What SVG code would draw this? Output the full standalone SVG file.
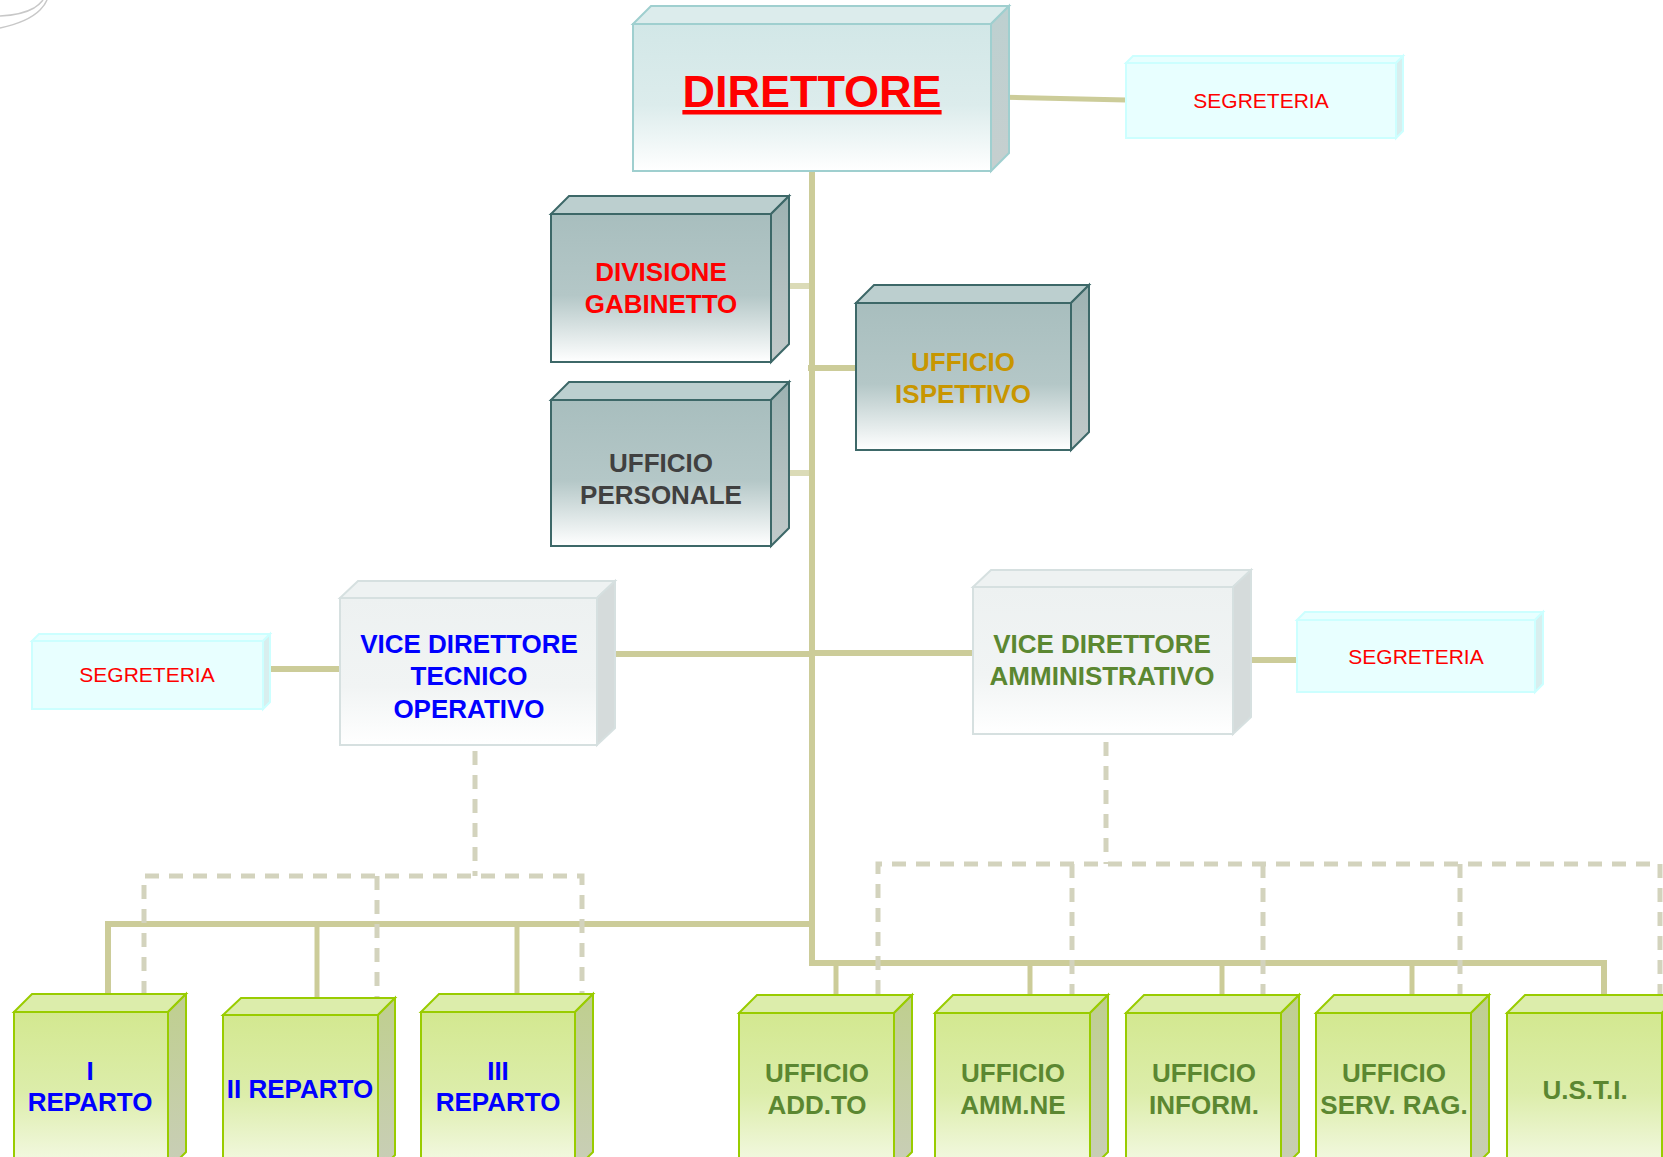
<svg xmlns="http://www.w3.org/2000/svg" width="1663" height="1157" viewBox="0 0 1663 1157">
<defs>
<linearGradient id="gTop" x1="0" y1="0" x2="0" y2="1"><stop offset="0" stop-color="#d2e7e7"/><stop offset="0.55" stop-color="#dcecec"/><stop offset="1" stop-color="#ffffff"/></linearGradient>
<linearGradient id="gTopSide" x1="0" y1="0" x2="0" y2="1"><stop offset="0" stop-color="#bdd0d0"/><stop offset="1" stop-color="#c6cfcf"/></linearGradient>
<linearGradient id="gGrey" x1="0" y1="0" x2="0" y2="1"><stop offset="0" stop-color="#a8bebe"/><stop offset="0.55" stop-color="#b4c7c7"/><stop offset="1" stop-color="#ffffff"/></linearGradient>
<linearGradient id="gGreySide" x1="0" y1="0" x2="0" y2="1"><stop offset="0" stop-color="#9db2b2"/><stop offset="1" stop-color="#c2caca"/></linearGradient>
<linearGradient id="gVice" x1="0" y1="0" x2="0" y2="1"><stop offset="0" stop-color="#edf1f1"/><stop offset="0.6" stop-color="#f1f4f4"/><stop offset="1" stop-color="#ffffff"/></linearGradient>
<linearGradient id="gGreen" x1="0" y1="0" x2="0" y2="1"><stop offset="0" stop-color="#d3e890"/><stop offset="0.5" stop-color="#dcedaa"/><stop offset="1" stop-color="#f6fae9"/></linearGradient>
<linearGradient id="gGreenSide" x1="0" y1="0" x2="0" y2="1"><stop offset="0" stop-color="#bfcf8e"/><stop offset="1" stop-color="#c9ceb8"/></linearGradient>
</defs>
<style>
.tf{fill:url(#gTop);stroke:#9fcfcf;stroke-width:2}
.tt{fill:#dcecec;stroke:#9fcfcf;stroke-width:2}
.ts{fill:url(#gTopSide);stroke:#9fcfcf;stroke-width:2}
.gf{fill:url(#gGrey);stroke:#3d6868;stroke-width:2}
.gt{fill:#bccfcf;stroke:#3d6868;stroke-width:2}
.gs{fill:url(#gGreySide);stroke:#3d6868;stroke-width:2}
.vf{fill:url(#gVice);stroke:#d6e0e0;stroke-width:2}
.vt{fill:#eef2f2;stroke:#d6e0e0;stroke-width:2}
.vs{fill:#d5dbdb;stroke:#d6e0e0;stroke-width:2}
.sf{fill:#e8ffff;stroke:#ccffff;stroke-width:2}
.st{fill:#e8ffff;stroke:#ccffff;stroke-width:2}
.ss{fill:#d8eeee;stroke:#ccffff;stroke-width:2}
.lf{fill:url(#gGreen);stroke:#99cc00;stroke-width:2}
.lt{fill:#dcedab;stroke:#99cc00;stroke-width:2}
.ls{fill:url(#gGreenSide);stroke:#99cc00;stroke-width:2}
text{font-family:"Liberation Sans",Arial,sans-serif;text-anchor:middle}
.b{font-weight:bold;font-size:26px}
.seg{font-size:21px;fill:#ff0000}
.red{fill:#ff0000}.gold{fill:#c89600}.dk{fill:#404040}.blue{fill:#0000ff}.grn{fill:#5b8731}
.c{fill:none;stroke:#cccc99;stroke-width:6}
.c5{fill:none;stroke:#cccc99;stroke-width:5}
.d{fill:none;stroke:#d3d3bd;stroke-width:5;stroke-dasharray:14 10}
.deco{fill:none;stroke:#c8c8c8;stroke-width:1.5}
</style>

<g id="decor">
<path class="deco" d="M0,16 Q22,15 34,8 Q40,4 43,0"/>
<path class="deco" d="M0,28 Q28,22 40,10 Q45,5 47,0"/>
</g>

<g id="connectors">
<line class="c" x1="812" y1="168" x2="812" y2="966"/>
<line class="c5" x1="991" y1="97" x2="1126" y2="100"/>
<line class="c" x1="771" y1="286" x2="812" y2="286" opacity="0.7"/>
<line class="c" x1="808" y1="368" x2="856" y2="368"/>
<line class="c" x1="771" y1="473" x2="812" y2="473" opacity="0.7"/>
<line class="c" x1="615" y1="654" x2="812" y2="654"/>
<line class="c" x1="812" y1="653" x2="975" y2="653"/>
<line class="c" x1="1233" y1="660" x2="1297" y2="660"/>
<line class="c" x1="270" y1="669" x2="340" y2="669"/>
<path class="c" d="M108,997 V924 H812"/>
<line class="c" x1="317" y1="924" x2="812" y2="924" stroke-width="8"/>
<line class="c5" x1="317" y1="924" x2="317" y2="1000"/>
<line class="c5" x1="517" y1="924" x2="517" y2="997"/>
<path class="c" d="M812,963 H1604 V997" stroke-width="7"/>
<line class="c5" x1="836" y1="963" x2="836" y2="997"/>
<line class="c5" x1="1030" y1="963" x2="1030" y2="997"/>
<line class="c5" x1="1222" y1="963" x2="1222" y2="997"/>
<line class="c5" x1="1412" y1="963" x2="1412" y2="997"/>
<path class="d" d="M475,751 V876 M144,995 V876 H582 V995 M377,876 V1000"/>
<path class="d" d="M1106,742 V864 M878,994 V864 H1660 V994 M1072,864 V994 M1263,864 V994 M1460,864 V994"/>
</g>

<g id="direttore">
<polygon class="tt" points="633,24 651,6 1009,6 991,24"/>
<polygon class="ts" points="991,24 1009,6 1009,153 991,171"/>
<rect class="tf" x="633" y="24" width="358" height="147"/>
<text x="812" y="107" font-size="45" font-weight="bold" fill="#ff0000" text-decoration="underline">DIRETTORE</text>
</g>

<g id="segreteria-dir">
<polygon class="st" points="1126,63 1133,56 1403,56 1396,63"/>
<polygon class="ss" points="1396,63 1403,56 1403,131 1396,138"/>
<rect class="sf" x="1126" y="63" width="270" height="75"/>
<text class="seg" x="1261" y="108">SEGRETERIA</text>
</g>

<g id="divisione-gabinetto">
<polygon class="gt" points="551,214 569,196 789,196 771,214"/>
<polygon class="gs" points="771,214 789,196 789,344 771,362"/>
<rect class="gf" x="551" y="214" width="220" height="148"/>
<text class="b red" x="661" y="281">DIVISIONE</text>
<text class="b red" x="661" y="313">GABINETTO</text>
</g>

<g id="ufficio-ispettivo">
<polygon class="gt" points="856,303 874,285 1089,285 1071,303"/>
<polygon class="gs" points="1071,303 1089,285 1089,432 1071,450"/>
<rect class="gf" x="856" y="303" width="215" height="147"/>
<text class="b gold" x="963" y="371">UFFICIO</text>
<text class="b gold" x="963" y="403">ISPETTIVO</text>
</g>

<g id="ufficio-personale">
<polygon class="gt" points="551,400 569,382 789,382 771,400"/>
<polygon class="gs" points="771,400 789,382 789,528 771,546"/>
<rect class="gf" x="551" y="400" width="220" height="146"/>
<text class="b dk" x="661" y="472">UFFICIO</text>
<text class="b dk" x="661" y="504">PERSONALE</text>
</g>

<g id="segreteria-tec">
<polygon class="st" points="32,641 39,634 270,634 263,641"/>
<polygon class="ss" points="263,641 270,634 270,702 263,709"/>
<rect class="sf" x="32" y="641" width="231" height="68"/>
<text class="seg" x="147" y="682">SEGRETERIA</text>
</g>

<g id="vice-tecnico">
<polygon class="vt" points="340,598 358,581 615,581 597,598"/>
<polygon class="vs" points="597,598 615,581 615,728 597,745"/>
<rect class="vf" x="340" y="598" width="257" height="147"/>
<text class="b blue" x="469" y="653">VICE DIRETTORE</text>
<text class="b blue" x="469" y="685">TECNICO</text>
<text class="b blue" x="469" y="718">OPERATIVO</text>
</g>

<g id="vice-amministrativo">
<polygon class="vt" points="973,587 991,570 1251,570 1233,587"/>
<polygon class="vs" points="1233,587 1251,570 1251,717 1233,734"/>
<rect class="vf" x="973" y="587" width="260" height="147"/>
<text class="b grn" x="1102" y="653">VICE DIRETTORE</text>
<text class="b grn" x="1102" y="685">AMMINISTRATIVO</text>
</g>

<g id="segreteria-amm">
<polygon class="st" points="1297,620 1305,612 1543,612 1535,620"/>
<polygon class="ss" points="1535,620 1543,612 1543,684 1535,692"/>
<rect class="sf" x="1297" y="620" width="238" height="72"/>
<text class="seg" x="1416" y="664">SEGRETERIA</text>
</g>

<g id="reparto-1">
<polygon class="lt" points="14,1012 32,994 186,994 168,1012"/>
<polygon class="ls" points="168,1012 186,994 186,1152 168,1170"/>
<rect class="lf" x="14" y="1012" width="154" height="160"/>
<text class="b blue" x="90" y="1080">I</text>
<text class="b blue" x="90" y="1111">REPARTO</text>
</g>

<g id="reparto-2">
<polygon class="lt" points="223,1015 241,998 395,998 378,1015"/>
<polygon class="ls" points="378,1015 395,998 395,1155 378,1172"/>
<rect class="lf" x="223" y="1015" width="155" height="160"/>
<text class="b blue" x="300" y="1098">II REPARTO</text>
</g>

<g id="reparto-3">
<polygon class="lt" points="421,1012 439,994 593,994 575,1012"/>
<polygon class="ls" points="575,1012 593,994 593,1152 575,1170"/>
<rect class="lf" x="421" y="1012" width="154" height="160"/>
<text class="b blue" x="498" y="1080">III</text>
<text class="b blue" x="498" y="1111">REPARTO</text>
</g>

<g id="ufficio-addto">
<polygon class="lt" points="739,1013 757,995 912,995 894,1013"/>
<polygon class="ls" points="894,1013 912,995 912,1152 894,1170"/>
<rect class="lf" x="739" y="1013" width="155" height="160"/>
<text class="b grn" x="817" y="1082">UFFICIO</text>
<text class="b grn" x="817" y="1114">ADD.TO</text>
</g>

<g id="ufficio-ammne">
<polygon class="lt" points="935,1013 953,995 1108,995 1090,1013"/>
<polygon class="ls" points="1090,1013 1108,995 1108,1152 1090,1170"/>
<rect class="lf" x="935" y="1013" width="155" height="160"/>
<text class="b grn" x="1013" y="1082">UFFICIO</text>
<text class="b grn" x="1013" y="1114">AMM.NE</text>
</g>

<g id="ufficio-inform">
<polygon class="lt" points="1126,1013 1144,995 1299,995 1281,1013"/>
<polygon class="ls" points="1281,1013 1299,995 1299,1152 1281,1170"/>
<rect class="lf" x="1126" y="1013" width="155" height="160"/>
<text class="b grn" x="1204" y="1082">UFFICIO</text>
<text class="b grn" x="1204" y="1114">INFORM.</text>
</g>

<g id="ufficio-servrag">
<polygon class="lt" points="1316,1013 1334,995 1489,995 1471,1013"/>
<polygon class="ls" points="1471,1013 1489,995 1489,1152 1471,1170"/>
<rect class="lf" x="1316" y="1013" width="155" height="160"/>
<text class="b grn" x="1394" y="1082">UFFICIO</text>
<text class="b grn" x="1394" y="1114">SERV. RAG.</text>
</g>

<g id="usti">
<polygon class="lt" points="1507,1013 1525,995 1680,995 1662,1013"/>
<polygon class="ls" points="1662,1013 1680,995 1680,1152 1662,1170"/>
<rect class="lf" x="1507" y="1013" width="155" height="160"/>
<text class="b grn" x="1585" y="1099">U.S.T.I.</text>
</g>
</svg>
